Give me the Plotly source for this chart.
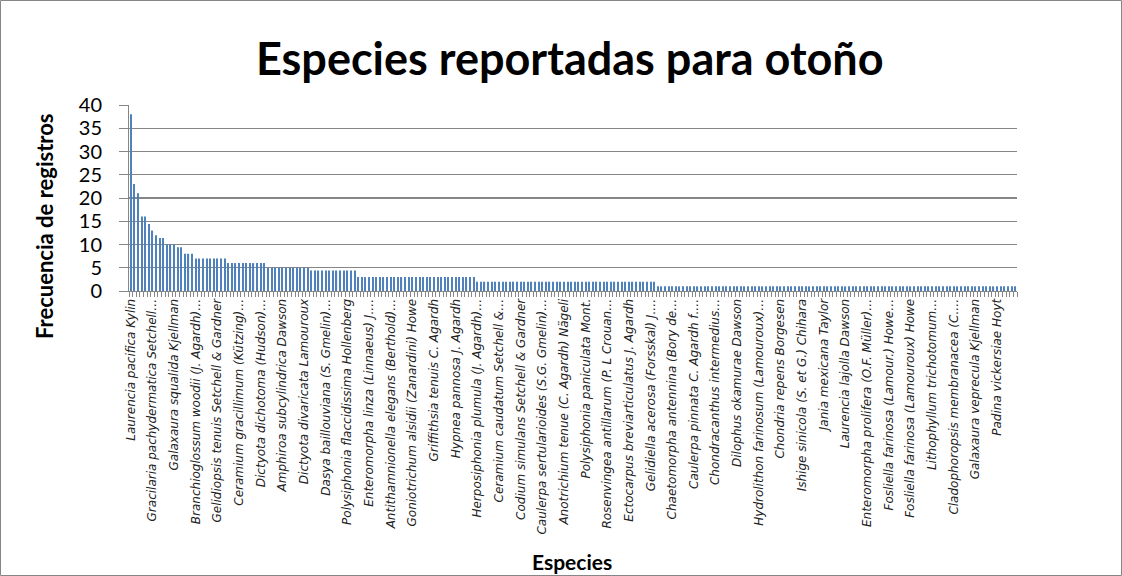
import plotly.graph_objects as go

# Category positions (1..246); only every 6th category carries a visible label
n_categories = 246
categories = list(range(1, n_categories + 1))

label_positions = [1, 7, 13, 19, 25, 31, 37, 43, 49, 55, 61, 67, 73, 79, 85, 91, 97,
                   103, 109, 115, 121, 127, 133, 139, 145, 151, 157, 163, 169, 175,
                   181, 187, 193, 199, 205, 211, 217, 223, 229, 235, 241]

tick_labels = [
    "Laurencia pacifica Kylin",
    "Gracilaria pachydermatica Setchell…",
    "Galaxaura squalida Kjellman",
    "Branchioglossum woodii (J. Agardh)…",
    "Gelidiopsis tenuis Setchell & Gardner",
    "Ceramium gracillimum (Kützing)…",
    "Dictyota dichotoma (Hudson)…",
    "Amphiroa subcylindrica Dawson",
    "Dictyota divaricata Lamouroux",
    "Dasya baillouviana (S. Gmelin)…",
    "Polysiphonia flaccidissima Hollenberg",
    "Enteromorpha linza (Linnaeus) J.…",
    "Antithamnionella elegans (Berthold)…",
    "Goniotrichum alsidii (Zanardini) Howe",
    "Griffithsia tenuis C. Agardh",
    "Hypnea pannosa J. Agardh",
    "Herposiphonia plumula (J. Agardh)…",
    "Ceramium caudatum Setchell &…",
    "Codium simulans Setchell & Gardner",
    "Caulerpa sertularioides (S.G. Gmelin)…",
    "Anotrichium tenue (C. Agardh) Nägeli",
    "Polysiphonia paniculata Mont.",
    "Rosenvingea antillarum (P. L Crouan…",
    "Ectocarpus breviarticulatus J. Agardh",
    "Gelidiella acerosa (Forsskal) J.…",
    "Chaetomorpha antennina (Bory de…",
    "Caulerpa pinnata C. Agardh f.…",
    "Chondracanthus intermedius…",
    "Dilophus okamurae Dawson",
    "Hydrolithon farinosum (Lamouroux)…",
    "Chondria repens Borgesen",
    "Ishige sinicola (S. et G.) Chihara",
    "Jania mexicana Taylor",
    "Laurencia lajolla Dawson",
    "Enteromorpha prolifera (O.F. Müller)…",
    "Fosliella farinosa (Lamour.) Howe…",
    "Fosliella farinosa (Lamouroux) Howe",
    "Lithophyllum trichotomum…",
    "Cladophoropsis membranacea (C.…",
    "Galaxaura veprecula Kjellman",
    "Padina vickersiae Hoyt",
]

frequencies = [
    38, 23, 21, 16, 16, 14.4, 13, 12, 11.4, 11.4,
    10, 10, 10, 9.4, 9.4, 8, 8, 8, 7, 7,
    7, 7, 7, 7, 7, 7, 7, 6, 6, 6,
    6, 6, 6, 6, 6, 6, 6, 6, 5, 5,
    5, 5, 5, 5, 5, 5, 5, 5, 5, 5,
    4.4, 4.4, 4.4, 4.4, 4.4, 4.4, 4.4, 4.4, 4.4, 4.4,
    4.4, 4.4, 4.4, 3, 3, 3, 3, 3, 3, 3,
    3, 3, 3, 3, 3, 3, 3, 3, 3, 3,
    3, 3, 3, 3, 3, 3, 3, 3, 3, 3,
    3, 3, 3, 3, 3, 3, 2, 2, 2, 2,
    2, 2, 2, 2, 2, 2, 2, 2, 2, 2,
    2, 2, 2, 2, 2, 2, 2, 2, 2, 2,
    2, 2, 2, 2, 2, 2, 2, 2, 2, 2,
    2, 2, 2, 2, 2, 2, 2, 2, 2, 2,
    2, 2, 2, 2, 2, 2, 1, 1, 1, 1,
    1, 1, 1, 1, 1, 1, 1, 1, 1, 1,
    1, 1, 1, 1, 1, 1, 1, 1, 1, 1,
    1, 1, 1, 1, 1, 1, 1, 1, 1, 1,
    1, 1, 1, 1, 1, 1, 1, 1, 1, 1,
    1, 1, 1, 1, 1, 1, 1, 1, 1, 1,
    1, 1, 1, 1, 1, 1, 1, 1, 1, 1,
    1, 1, 1, 1, 1, 1, 1, 1, 1, 1,
    1, 1, 1, 1, 1, 1, 1, 1, 1, 1,
    1, 1, 1, 1, 1, 1, 1, 1, 1, 1,
    1, 1, 1, 1, 1, 1,
]

y_ticks = [0, 5, 10, 15, 20, 25, 30, 35, 40]

title_text = "Especies reportadas para otoño"
x_title = "Especies"
y_title = "Frecuencia de registros"

GRID = "#868686"
BAR = "#4F81BD"

W, H = 1122, 576
L, R, T, B = 129, 105, 105, 285
plot_w = W - L - R
plot_h = H - T - B


def px(xpix):
    return (xpix - L) / plot_w


def py(ypix):
    return (H - B - ypix) / plot_h


fig = go.Figure(
    go.Bar(x=categories, y=frequencies, marker=dict(color=BAR, line=dict(width=0)))
)

fig.update_layout(
    width=W, height=H,
    margin=dict(l=L, r=R, t=T, b=B, pad=0),
    paper_bgcolor="white", plot_bgcolor="white",
    bargap=0.68,
    showlegend=False,
    font=dict(family="Lato, Open Sans, sans-serif", color="black"),
)

fig.update_xaxes(
    range=[0.5, n_categories + 0.5],
    tickmode="array", tickvals=label_positions, ticktext=tick_labels,
    tickangle=-90, ticks="", automargin=False,
    tickfont=dict(family="DejaVu Sans, sans-serif", size=12, style="italic", color="#222"),
    ticklabelstandoff=2,
    showline=True, linecolor=GRID, linewidth=1,
    showgrid=False, zeroline=False,
    minor=dict(ticks="outside", tick0=0.5, dtick=1, ticklen=5, tickcolor=GRID,
               tickwidth=1, showgrid=False),
)

fig.update_yaxes(
    range=[0, 40], tickmode="array", tickvals=y_ticks,
    ticks="outside", ticklen=9, tickcolor=GRID, automargin=False,
    tickfont=dict(family="Lato, sans-serif", size=20),
    ticklabelstandoff=13,
    showline=True, linecolor=GRID, linewidth=1,
    showgrid=True, gridcolor=GRID, gridwidth=1,
    zeroline=False,
)

# thicker gridline at 20, as it appears in the reference picture
fig.add_shape(type="line", xref="paper", yref="y", x0=0, x1=1, y0=20, y1=20,
              line=dict(color=GRID, width=2), layer="below")

# chart border
fig.add_shape(type="rect", xref="paper", yref="paper",
              x0=px(0.5), x1=px(W - 0.5), y0=py(H - 0.5), y1=py(0.5),
              line=dict(color=GRID, width=1))

fig.add_annotation(
    text=title_text, xref="paper", yref="paper",
    x=px(570), y=py(58),
    showarrow=False, xanchor="center", yanchor="middle",
    font=dict(family="Lato, sans-serif", size=45, weight="bold"),
)
fig.add_annotation(
    text=y_title, xref="paper", yref="paper",
    x=px(44), y=py(226),
    showarrow=False, textangle=-90, xanchor="center", yanchor="middle",
    font=dict(family="Lato, sans-serif", size=22, weight="bold"),
)
fig.add_annotation(
    text=x_title, xref="paper", yref="paper",
    x=px(572), y=py(561),
    showarrow=False, xanchor="center", yanchor="middle",
    font=dict(family="Lato, sans-serif", size=21, weight="bold"),
)

fig.write_html(
    "out.html",
    config={"displayModeBar": False},
    post_script="document.body.style.margin='0px';document.body.style.padding='0px';",
)
